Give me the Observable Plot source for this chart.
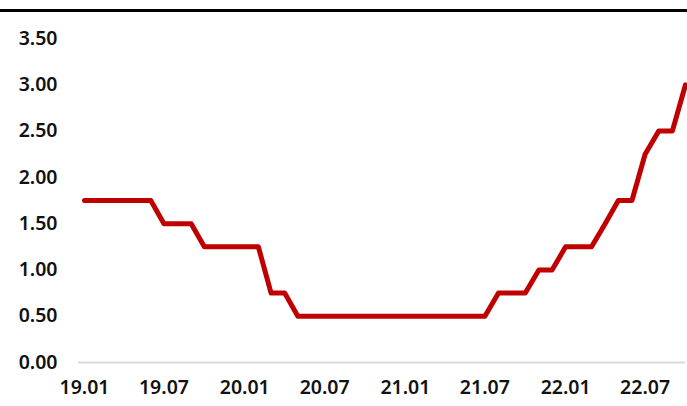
<!DOCTYPE html>
<html>
<head>
<meta charset="utf-8">
<script src="https://cdn.jsdelivr.net/npm/d3@7"></script>
<script src="https://cdn.jsdelivr.net/npm/@observablehq/plot@0.6"></script>
<style>
  html, body { margin: 0; padding: 0; background: #fff; }
  #wrap { position: relative; width: 687px; height: 406px; }
  #topline { position: absolute; left: 0; top: 9px; width: 687px; height: 3px; background: #000; }
  svg { font-family: "Noto Sans", sans-serif; }
</style>
</head>
<body>
<div id="wrap"><div id="topline"></div></div>
<script>
const months = [
  "2019-01","2019-02","2019-03","2019-04","2019-05","2019-06","2019-07","2019-08","2019-09","2019-10","2019-11","2019-12",
  "2020-01","2020-02","2020-03","2020-04","2020-05","2020-06","2020-07","2020-08","2020-09","2020-10","2020-11","2020-12",
  "2021-01","2021-02","2021-03","2021-04","2021-05","2021-06","2021-07","2021-08","2021-09","2021-10","2021-11","2021-12",
  "2022-01","2022-02","2022-03","2022-04","2022-05","2022-06","2022-07","2022-08","2022-09","2022-10"
];
const rates = [
  1.75,1.75,1.75,1.75,1.75,1.75,1.50,1.50,1.50,1.25,1.25,1.25,
  1.25,1.25,0.75,0.75,0.50,0.50,0.50,0.50,0.50,0.50,0.50,0.50,
  0.50,0.50,0.50,0.50,0.50,0.50,0.50,0.75,0.75,0.75,1.00,1.00,
  1.25,1.25,1.25,1.50,1.75,1.75,2.25,2.50,2.50,3.00
];
const xTickLabels = ["2019-01","2019-07","2020-01","2020-07","2021-01","2021-07","2022-01","2022-07"];
const yTicks = [0, 0.5, 1, 1.5, 2, 2.5, 3, 3.5];

const parse = d3.utcParse("%Y-%m");
const data = months.map((m, i) => ({date: parse(m), value: rates[i]}));

const chart = Plot.plot({
  width: 687,
  height: 406,
  marginLeft: 78,
  marginRight: 2,
  marginTop: 38,
  marginBottom: 44,
  insetLeft: 6,
  style: {fontSize: "19.5px", fontWeight: "600", color: "#111", background: "transparent"},
  x: {
    type: "utc",
    domain: [parse(months[0]), parse(months[months.length - 1])],
    ticks: xTickLabels.map(parse),
    tickFormat: d3.utcFormat("%y.%m"),
    tickSize: 0,
    tickPadding: 18,
    label: null
  },
  y: {
    domain: [0, 3.5],
    ticks: yTicks,
    tickFormat: d => d.toFixed(2),
    tickSize: 0,
    tickPadding: 21,
    label: null
  },
  marks: [
    Plot.ruleY([0], {stroke: "#d9d9d9", strokeWidth: 2}),
    Plot.line(data, {x: "date", y: "value", stroke: "#c00000", strokeWidth: 5, strokeLinejoin: "round", strokeLinecap: "round"})
  ]
});
document.getElementById("wrap").appendChild(chart);
chart.style.position = "absolute";
chart.style.left = "0";
chart.style.top = "0";
</script>
</body>
</html>
